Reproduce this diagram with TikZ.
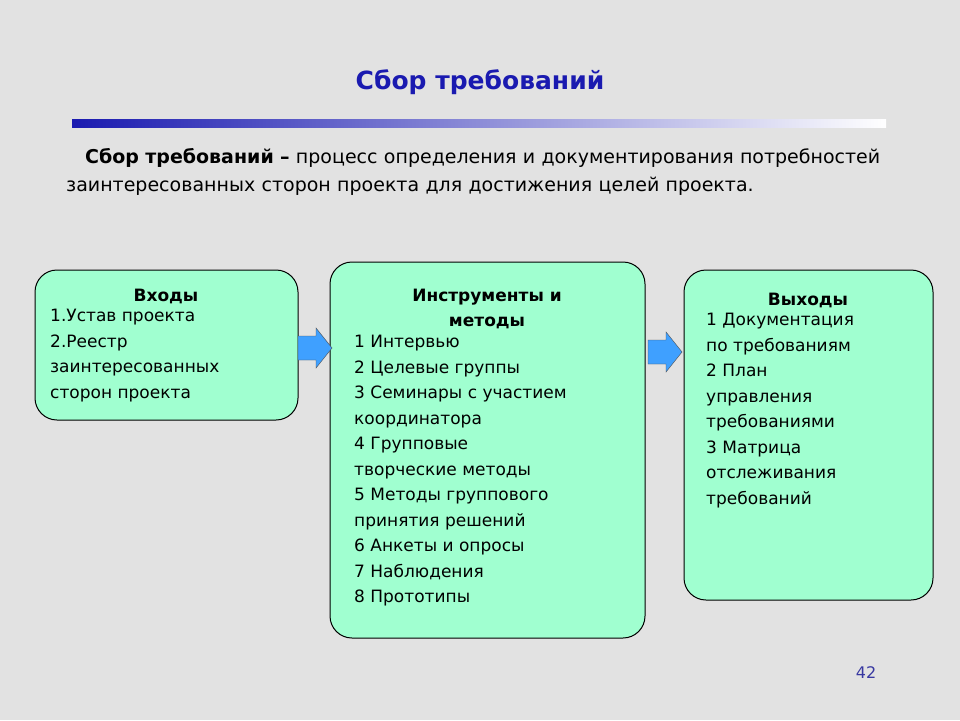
\documentclass[tikz,border=0pt]{standalone}
\usepackage{fontspec}
\setmainfont{DejaVu Sans}
\usepackage{tikz}
\usetikzlibrary{positioning,shapes.arrows,calc}
\definecolor{bgGray}{HTML}{E2E2E2}
\definecolor{titleBlue}{HTML}{1A1AB0}
\definecolor{mint}{HTML}{A0FFD0}
\definecolor{arrowBlue}{HTML}{3FA0FF}
\newcommand{\blockarrow}[1]{%
  \draw[draw=black!70,fill=arrowBlue] ($(#1)+(-16,-12)$) -- ++(18,0) -- ++(0,-8) -- ++(16,20)
    -- ++(-16,20) -- ++(0,-8) -- ++(-18,0) -- cycle;}
\begin{document}
\begin{tikzpicture}[x=1pt,y=-1pt,
  box/.style={draw=black,line width=1pt,fill=mint,rounded corners=22pt},
  body/.style={anchor=north west,align=left,font=\fontsize{17}{25.5}\selectfont,inner sep=0pt},
  head/.style={font=\bfseries\fontsize{17}{25.5}\selectfont,inner sep=0pt,align=center}]
  \fill[bgGray] (0,0) rectangle (960,720);
  \useasboundingbox (0,0) rectangle (960,720);

  % title
  \node[font=\bfseries\fontsize{25}{30}\selectfont,text=titleBlue] (title) at (480,82) {Сбор требований};
  \shade[left color=titleBlue,right color=white] (72,119) rectangle (886,127);

  % definition
  \node[body,text width=825pt,font=\fontsize{19}{28.5}\selectfont] (def) at (66,148)
    {\hspace*{19pt}\textbf{Сбор требований –} процесс определения и документирования
     потребностей заинтересованных сторон проекта для достижения целей проекта.};

  % boxes
  \draw[box] (35,270) rectangle (298,420);
  \draw[box] (330,262) rectangle (645,638);
  \draw[box] (684,270) rectangle (933,600);
  \coordinate (inBox) at (166,296);
  \coordinate (toolBox) at (487,309);
  \coordinate (outBox) at (808,300);

  \node[head] (inHead) at (inBox) {Входы};
  \node[body] (inList) at (50,309) {1.Устав проекта\\2.Реестр\\заинтересованных\\сторон проекта};

  \node[head] (toolHead) at (toolBox) {Инструменты и\\методы};
  \node[body] (toolList) at (354,335) {1 Интервью\\2 Целевые группы\\3 Семинары с участием\\координатора\\4 Групповые\\творческие методы\\5 Методы группового\\принятия решений\\6 Анкеты и опросы\\7 Наблюдения\\8 Прототипы};

  \node[head] (outHead) at (outBox) {Выходы};
  \node[body] (outList) at (706,313) {1 Документация\\по требованиям\\2 План\\управления\\требованиями\\3 Матрица\\отслеживания\\требований};

  % arrows
  \coordinate (arrA) at (314,348);
  \coordinate (arrB) at (664,352);
  \blockarrow{arrA}
  \blockarrow{arrB}

  \node[text=titleBlue!70!gray,font=\fontsize{16}{18}\selectfont] (page) at (866,673) {42};
\end{tikzpicture}
\end{document}
